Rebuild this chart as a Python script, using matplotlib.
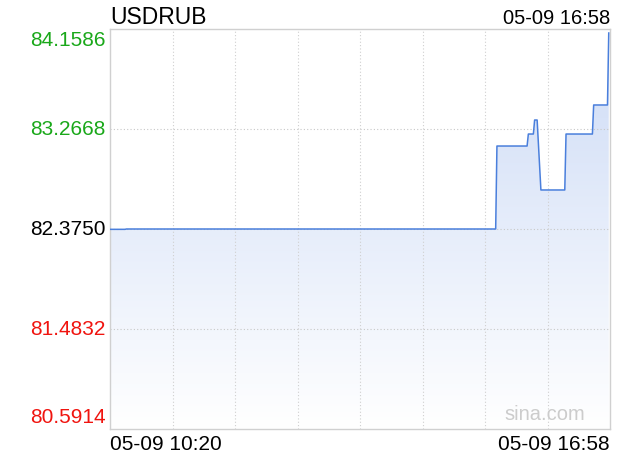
import matplotlib
matplotlib.use("Agg")
import matplotlib.pyplot as plt
import numpy as np
from matplotlib.colors import LinearSegmentedColormap

plt.rcParams["font.family"] = ["Liberation Sans", "DejaVu Sans"]

# minutes after 10:20 and USDRUB price
minutes = [0, 12, 13, 307, 308, 332, 333, 337, 338, 340, 343, 362, 363, 384, 385, 396, 397]
prices = [82.372, 82.372, 82.375, 82.375, 83.115, 83.115, 83.222, 83.222, 83.347,
          83.347, 82.723, 82.723, 83.222, 83.222, 83.481, 83.481, 84.123]

prev_close = 82.3750
y_low, y_high = 80.5914, 84.1586
t_start, t_end = 0, 398
title = "USDRUB"
stamp = "05-09 16:58"
x_labels = ["05-09 10:20", "05-09 16:58"]

fig = plt.figure(figsize=(6.2, 4.6), dpi=100)
ax = fig.add_axes([110 / 620, 30 / 460, 500 / 620, 400 / 460])
ax.set_xlim(t_start, t_end)
ax.set_ylim(y_low, y_high)

# gradient fill under the line
cmap = LinearSegmentedColormap.from_list("fade", ["#cddbf6", "#ffffff"])
grad = np.linspace(0, 1, 256).reshape(-1, 1)
im = ax.imshow(grad, cmap=cmap, extent=[t_start, t_end, y_low, y_high],
               aspect="auto", origin="upper", zorder=1)
poly = ax.fill_between(minutes, prices, y_low, facecolor="none", edgecolor="none")
im.set_clip_path(poly.get_paths()[0], transform=ax.transData)
ax.set_xlim(t_start, t_end)
ax.set_ylim(y_low, y_high)

ax.plot(minutes, prices, color="#4a7fdc", lw=1.1, zorder=3)

# grid
for gx in np.linspace(t_start, t_end, 9)[1:-1]:
    ax.axvline(gx, color="#cfcfcf", lw=0.8, ls=(0, (1, 2)), zorder=2)
ticks = np.linspace(y_low, y_high, 5)
for gy in ticks[1:-1]:
    ax.axhline(gy, color="#c8c8c8", lw=0.8, ls=(0, (1, 2)), zorder=2)

for s in ax.spines.values():
    s.set_color("#d0d0d0")
    s.set_linewidth(1)
ax.set_xticks([])
ax.set_yticks([])

# y labels
for i, v in enumerate(ticks):
    if v > prev_close + 1e-6:
        c = "#1aa81a"
    elif v < prev_close - 1e-6:
        c = "#f0140f"
    else:
        c = "#000000"
    va = "center"
    off = 0
    if i == 0:
        va, off = "bottom", 2
    elif i == len(ticks) - 1:
        va, off = "top", -1
    ax.annotate(f"{v:.4f}", xy=(0, v), xycoords=("axes fraction", "data"),
                xytext=(-3, off), textcoords="offset points",
                ha="right", va=va, fontsize=15, color=c)

ax.annotate(title, xy=(0, 1), xycoords="axes fraction", xytext=(0, 4.5),
            textcoords="offset points", ha="left", va="baseline", fontsize=16.5)
ax.annotate(stamp, xy=(1, 1), xycoords="axes fraction", xytext=(0, 4),
            textcoords="offset points", ha="right", va="baseline", fontsize=14.5)
ax.text(0, -0.012, x_labels[0], transform=ax.transAxes, ha="left", va="top",
        fontsize=15, color="#000000")
ax.text(1, -0.012, x_labels[1], transform=ax.transAxes, ha="right", va="top",
        fontsize=15, color="#000000")
ax.text(0.95, 0.015, "sina.com", transform=ax.transAxes, ha="right", va="bottom",
        fontsize=14.5, color="#cccccc", zorder=4)

fig.savefig("out.png", dpi=100)
